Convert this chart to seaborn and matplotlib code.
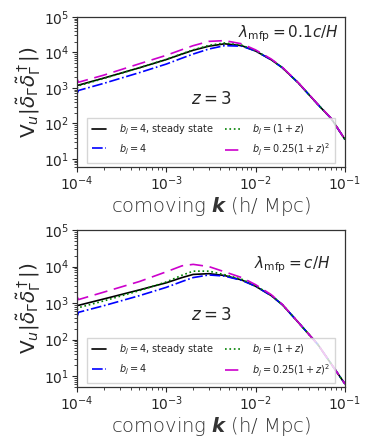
import numpy as np
import pandas as pd
import matplotlib
matplotlib.use("Agg")
import matplotlib.pyplot as plt
import seaborn as sns

# ---------------- data ----------------
k = [1.0e-4, 1.04e-4, 2e-4, 5e-4, 1e-3, 1.5e-3, 2e-3, 3e-3, 4.5e-3, 7e-3,
     1e-2, 1.5e-2, 2e-2, 3e-2, 5e-2, 7e-2, 1e-1]

# lambda_mfp = 0.1 c/H
top_steady = [1200, 1200, 1900, 3700, 6300, 9000, 11500, 15000, 17500, 15500,
              11000, 6200, 3700, 1400, 340, 140, 36]
top_b4 = [700, 850, 1350, 2700, 4700, 6900, 9000, 12500, 15500, 15000,
          11000, 6200, 3700, 1400, 340, 140, 36]
top_b1z = [950, 1150, 1850, 3700, 6400, 9200, 11800, 15800, 18500, 16000,
           11200, 6300, 3700, 1400, 340, 140, 36]
top_b1z2 = [1800, 1450, 2300, 4800, 8300, 12000, 15500, 20500, 21500, 17500,
            11800, 6500, 3800, 1420, 345, 142, 36]

# lambda_mfp = c/H
bot_steady = [870, 870, 1300, 2300, 3600, 5000, 6100, 6400, 5700, 4300,
              2900, 1600, 900, 300, 73, 22, 6.2]
bot_b4 = [420, 560, 850, 1600, 2700, 3900, 5000, 5900, 5500, 4200,
          2900, 1600, 900, 300, 73, 22, 6.2]
bot_b1z = [650, 750, 1150, 2200, 3800, 5800, 7500, 7500, 6000, 4500,
           3000, 1650, 900, 300, 73, 22, 6.2]
bot_b1z2 = [1500, 1250, 2000, 3900, 7200, 10500, 11500, 10000, 7200, 5000,
            3200, 1700, 920, 300, 73, 22, 6.2]

labels = [r"$b_j=4$, steady state", r"$b_j=4$", r"$b_j=(1+z)$", r"$b_j=0.25(1+z)^2$"]
colors = ["black", "blue", "green", "#cc00cc"]
styles = ["-", "-.", ":", (0, (8, 4))]

panels = [
    ([top_steady, top_b4, top_b1z, top_b1z2], r"$\lambda_{\rm mfp}=0.1c/H$", 6,
     (0.975, 0.89), 0.45),
    ([bot_steady, bot_b4, bot_b1z, bot_b1z2], r"$\lambda_{\rm mfp}=c/H$", 5,
     (0.945, 0.78), 0.46),
]

sns.set_style("ticks")
plt.rcParams["font.family"] = ["DejaVu Sans"]
plt.rcParams["mathtext.fontset"] = "dejavusans"

fig = plt.figure(figsize=(3.72, 4.45), dpi=100)
axes_rects = [[0.207, 0.625, 0.720, 0.337], [0.207, 0.130, 0.720, 0.353]]

for rect, (series, lam, ylo, lampos, zy) in zip(axes_rects, panels):
    ax = fig.add_axes(rect)
    for vals, lab, col, ls in zip(series, labels, colors, styles):
        df = pd.DataFrame({"k": k, "v": vals})
        sns.lineplot(data=df, x="k", y="v", ax=ax, color=col, linestyle=ls,
                     linewidth=1.2, label=lab, sort=False, estimator=None)
    ax.set_xscale("log")
    ax.set_yscale("log")
    ax.set_xlim(1e-4, 1e-1)
    ax.set_ylim(ylo, 1e5)
    ax.set_xticks([1e-4, 1e-3, 1e-2, 1e-1])
    ax.set_yticks([1e1, 1e2, 1e3, 1e4, 1e5])
    ax.tick_params(axis="both", which="major", labelsize=10, length=3.5,
                   width=0.8, pad=2)
    ax.tick_params(axis="both", which="minor", length=2, width=0.6)
    for sp in ax.spines.values():
        sp.set_color("#333333")
        sp.set_linewidth(0.9)
    ax.set_xlabel(r"comoving $\boldsymbol{k}$ (h/ Mpc)", fontsize=14,
                  fontweight="light", color="#333333", labelpad=1)
    ax.set_ylabel(r"$\mathrm{V}_u|\tilde{\delta}_\Gamma\tilde{\delta}_\Gamma^\dagger|)$",
                  fontsize=14.5, labelpad=1)
    ax.text(lampos[0], lampos[1], lam, transform=ax.transAxes, ha="right",
            va="center", fontsize=11)
    ax.text(0.50, zy, r"$z=3$", transform=ax.transAxes, ha="center",
            va="center", fontsize=12)
    ax.legend(loc="lower center", ncol=2, fontsize=7, frameon=True,
              bbox_to_anchor=(0.02, -0.005, 0.96, 0.3), mode="expand",
              handlelength=1.5, labelspacing=0.55, borderpad=0.45,
              columnspacing=0.8, handletextpad=1.3,
              fancybox=False, edgecolor="#cccccc")

fig.savefig("out.png", dpi=100)
